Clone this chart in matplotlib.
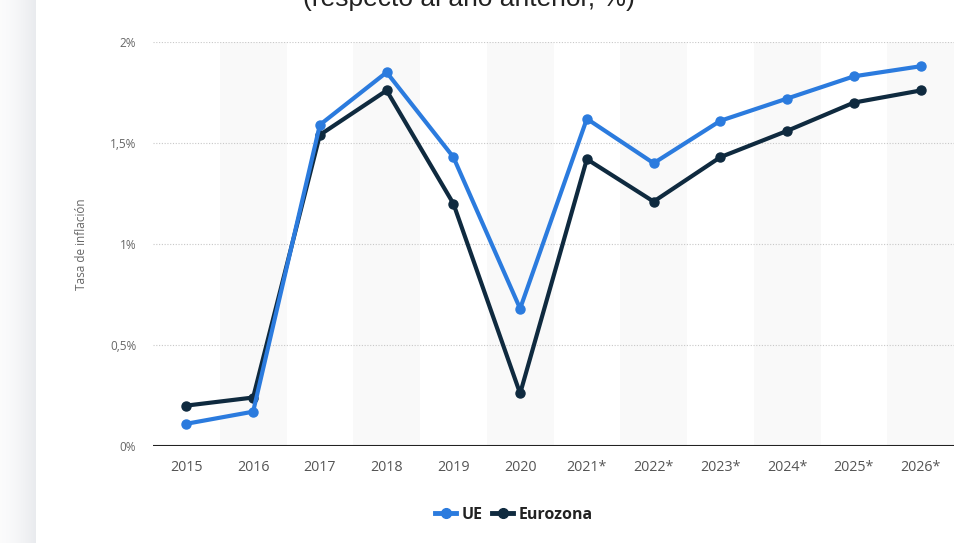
import numpy as np
import matplotlib
matplotlib.use("Agg")
import matplotlib.pyplot as plt
from matplotlib.lines import Line2D

years = ["2015", "2016", "2017", "2018", "2019", "2020",
         "2021*", "2022*", "2023*", "2024*", "2025*", "2026*"]
ue = [0.11, 0.17, 1.59, 1.85, 1.43, 0.68, 1.62, 1.40, 1.61, 1.72, 1.83, 1.88]
eurozona = [0.20, 0.24, 1.54, 1.76, 1.20, 0.26, 1.42, 1.21, 1.43, 1.56, 1.70, 1.76]
y_ticks = [0, 0.5, 1, 1.5, 2]
y_tick_labels = ["0%", "0,5%", "1%", "1,5%", "2%"]

blue = "#2b7bde"
navy = "#0f2a3f"

W, H = 961, 543
fig = plt.figure(figsize=(W / 100, H / 100), dpi=100)
fig.patch.set_facecolor("white")

# soft shadow strip along the left edge of the card
bg = fig.add_axes([0, 0, 36 / W, 1])
t = np.linspace(0, 1, 64)
start = np.array([0.985, 0.985, 0.988])
end = np.array([0.915, 0.922, 0.935])
shade = start[None, :] + (end - start)[None, :] * (t ** 1.5)[:, None]
bg.imshow(shade[None, :, :], aspect="auto", extent=[0, 1, 0, 1])
bg.set_axis_off()

# subtitle, partly cut off at the top edge
fig.text(469 / W, 1 - 6 / H, "(respecto al año anterior, %)", ha="center",
         va="baseline", fontsize=19, family="Liberation Sans", color="#222222")

ax = fig.add_axes([153 / W, (H - 446) / H, (954 - 153) / W, (446 - 42) / H])
x = np.arange(len(years))

# alternating column bands
for i in x:
    if i % 2 == 1:
        ax.axvspan(i - 0.5, i + 0.5, color="#f9f9f9", zorder=0, lw=0)

ax.set_xlim(-0.5, len(years) - 0.5)
ax.set_ylim(0, 2)

for yv in y_ticks[1:]:
    ax.axhline(yv, color="#c8c8c8", lw=0.8, ls=(0, (1, 1.5)), zorder=1)
ax.axhline(0, color="#222222", lw=1.5, zorder=2)

ax.plot(x, ue, color=blue, lw=3, marker="o", ms=6.5, zorder=4,
        solid_capstyle="round", solid_joinstyle="round")
ax.plot(x, eurozona, color=navy, lw=3, marker="o", ms=6.5, zorder=3,
        solid_capstyle="round", solid_joinstyle="round")

for s in ax.spines.values():
    s.set_visible(False)

ax.set_xticks(x)
ax.set_xticklabels(years, fontsize=10.3, color="#555555", family="Open Sans")
ax.set_yticks(y_ticks)
ax.set_yticklabels(y_tick_labels, fontsize=8.5, color="#666666", family="Open Sans")
ax.tick_params(axis="both", length=0)
ax.tick_params(axis="x", pad=10)
ax.tick_params(axis="y", pad=12)

ax.set_ylabel("Tasa de inflación", fontsize=8.5, color="#666666",
              family="Open Sans")
ax.yaxis.set_label_coords((88 - 153) / (954 - 153), 0.5)

handles = [
    Line2D([], [], color=blue, lw=3.5, marker="o", ms=7),
    Line2D([], [], color=navy, lw=3.5, marker="o", ms=7),
]
leg = fig.legend(handles, ["UE", "Eurozona"], loc="center",
                 bbox_to_anchor=(514 / W, 1 - 515 / H), ncol=2, frameon=False,
                 handlelength=1.3, handletextpad=0.35, columnspacing=0.6,
                 prop={"family": "Open Sans", "weight": "bold", "size": 11.5})
for txt in leg.get_texts():
    txt.set_color("#222222")

fig.savefig("out.png", dpi=100, facecolor="white")
